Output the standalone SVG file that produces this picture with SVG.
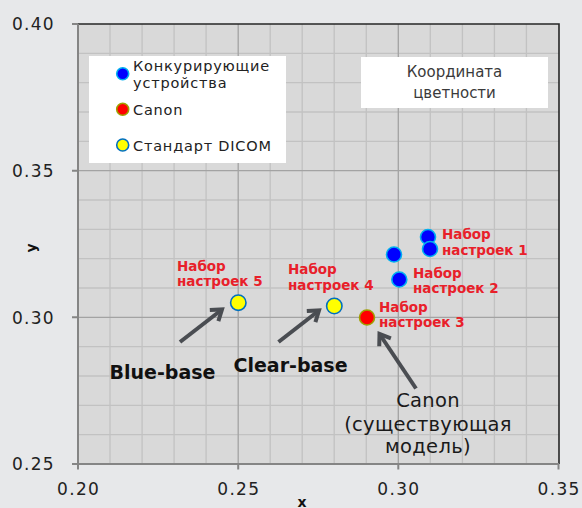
<svg xmlns="http://www.w3.org/2000/svg" width="582" height="508" viewBox="0 0 582 508">
<defs>
<style>
.grid{stroke:#c2c2c2;stroke-width:1.3}
.major{stroke:#a3a3a3;stroke-width:1.3}
.axis{stroke:#858585;stroke-width:2;fill:none}
.border{stroke:#262626;stroke-width:1.6;fill:none}
.tick{font-family:"DejaVu Sans",sans-serif;font-size:17px;fill:#222;letter-spacing:1.3px}
.ytick{text-anchor:end}
.xtick{text-anchor:middle}
.axlab{font-family:"DejaVu Sans",sans-serif;font-size:14px;font-weight:bold;fill:#111;text-anchor:middle}
.leg{font-family:"DejaVu Sans",sans-serif;font-size:14.5px;fill:#222;letter-spacing:0.8px}
.coord{font-family:"DejaVu Sans",sans-serif;font-size:15px;fill:#3a3a3a;text-anchor:middle}
.lbl{font-family:"DejaVu Sans",sans-serif;font-size:13.5px;font-weight:bold;fill:#e8202a}
.base{font-family:"DejaVu Sans",sans-serif;font-size:19px;font-weight:bold;fill:#111}
.note{font-family:"DejaVu Sans",sans-serif;font-size:19.5px;fill:#1a1a1a;text-anchor:middle;letter-spacing:0.3px}
.comp{fill:#0000ff;stroke:#00b0f0;stroke-width:1.6}
.canon{fill:#ff0000;stroke:#a0a000;stroke-width:1.6}
.dicom{fill:#ffff00;stroke:#0070c0;stroke-width:1.6}
.arrow{stroke:#4a4d52;stroke-width:4;fill:none;marker-end:url(#head)}
</style>
<marker id="head" markerUnits="userSpaceOnUse" viewBox="-14 -10 18 20" refX="0" refY="0" markerWidth="18" markerHeight="20" orient="auto">
<path d="M-10,-7 L0,0 L-10,7" fill="none" stroke="#4a4d52" stroke-width="4" stroke-linejoin="miter"/>
</marker>
</defs>
<rect x="0" y="0" width="582" height="508" fill="#e7e8ea"/>
<g id="plot">
<rect x="78" y="24" width="481" height="440" fill="#d9d9d9"/>
<g class="grid">
<line x1="110" y1="24" x2="110" y2="464"/>
<line x1="142.1" y1="24" x2="142.1" y2="464"/>
<line x1="174.1" y1="24" x2="174.1" y2="464"/>
<line x1="206.1" y1="24" x2="206.1" y2="464"/>
<line x1="270.2" y1="24" x2="270.2" y2="464"/>
<line x1="302.2" y1="24" x2="302.2" y2="464"/>
<line x1="334.2" y1="24" x2="334.2" y2="464"/>
<line x1="366.3" y1="24" x2="366.3" y2="464"/>
<line x1="430.3" y1="24" x2="430.3" y2="464"/>
<line x1="462.4" y1="24" x2="462.4" y2="464"/>
<line x1="494.4" y1="24" x2="494.4" y2="464"/>
<line x1="526.4" y1="24" x2="526.4" y2="464"/>
<line x1="78" y1="53.3" x2="559" y2="53.3"/>
<line x1="78" y1="82.7" x2="559" y2="82.7"/>
<line x1="78" y1="112" x2="559" y2="112"/>
<line x1="78" y1="141.3" x2="559" y2="141.3"/>
<line x1="78" y1="200" x2="559" y2="200"/>
<line x1="78" y1="229.3" x2="559" y2="229.3"/>
<line x1="78" y1="258.7" x2="559" y2="258.7"/>
<line x1="78" y1="288" x2="559" y2="288"/>
<line x1="78" y1="346.7" x2="559" y2="346.7"/>
<line x1="78" y1="376" x2="559" y2="376"/>
<line x1="78" y1="405.3" x2="559" y2="405.3"/>
<line x1="78" y1="434.7" x2="559" y2="434.7"/>
</g>
<g class="major">
<line x1="238.2" y1="24" x2="238.2" y2="464"/>
<line x1="398.3" y1="24" x2="398.3" y2="464"/>
<line x1="78" y1="170.7" x2="559" y2="170.7"/>
<line x1="78" y1="317.3" x2="559" y2="317.3"/>
</g>
<path class="border" d="M78,24 H559 V464"/>
<path class="axis" d="M72,24 H78 M72,170.7 H78 M72,317.3 H78 M78,24 V464 M72,464 H559 M78,464 V469.5 M238.2,464 V469.5 M398.3,464 V469.5 M558.5,464 V469.5"/>
<text class="tick ytick" x="55" y="30">0.40</text>
<text class="tick ytick" x="55" y="176.8">0.35</text>
<text class="tick ytick" x="55" y="323.6">0.30</text>
<text class="tick ytick" x="55" y="470.4">0.25</text>
<text class="tick xtick" x="78.6" y="495">0.20</text>
<text class="tick xtick" x="238.8" y="495">0.25</text>
<text class="tick xtick" x="398.9" y="495">0.30</text>
<text class="tick xtick" x="559.1" y="495">0.35</text>
<text class="axlab" x="302" y="506.5">x</text>
<text class="axlab" transform="translate(36,248) rotate(-90)" x="0" y="0">y</text>
</g>
<g id="legend">
<rect x="89" y="56" width="197" height="107" fill="#ffffff"/>
<circle class="comp" cx="122.7" cy="73.7" r="6"/>
<circle class="canon" cx="122.7" cy="109.3" r="6"/>
<circle class="dicom" cx="122.7" cy="145" r="6"/>
<text class="leg" x="133" y="70.5">Конкурирующие</text>
<text class="leg" x="133" y="87.5">устройства</text>
<text class="leg" x="133" y="115">Canon</text>
<text class="leg" x="133" y="150.5">Стандарт DICOM</text>
</g>
<g id="coord-box">
<rect x="361" y="57" width="187" height="51" fill="#ffffff"/>
<text class="coord" x="454.5" y="77">Координата</text>
<text class="coord" x="454.5" y="98">цветности</text>
</g>
<g id="points">
<circle class="comp" cx="428" cy="237" r="7.5"/>
<circle class="comp" cx="430" cy="249" r="7.5"/>
<circle class="comp" cx="394" cy="254.5" r="7.5"/>
<circle class="comp" cx="399.3" cy="279.5" r="7.5"/>
<circle class="canon" cx="367" cy="317.5" r="7.5"/>
<circle class="dicom" cx="238.3" cy="302.7" r="7.7"/>
<circle class="dicom" cx="334.3" cy="306" r="7.7"/>
</g>
<g id="labels">
<text class="lbl" x="442" y="239">Набор</text>
<text class="lbl" x="442" y="254.5">настроек 1</text>
<text class="lbl" x="413" y="277.5">Набор</text>
<text class="lbl" x="413" y="293">настроек 2</text>
<text class="lbl" x="379" y="311.5">Набор</text>
<text class="lbl" x="379" y="327">настроек 3</text>
<text class="lbl" x="288" y="274">Набор</text>
<text class="lbl" x="288" y="289.5">настроек 4</text>
<text class="lbl" x="177" y="270.5">Набор</text>
<text class="lbl" x="177" y="286">настроек 5</text>
</g>
<g id="connectors">
<path class="arrow" d="M180,342 L222,309.5"/>
<path class="arrow" d="M278.5,342 L319,310.5"/>
<path class="arrow" d="M416,388.5 L379.5,334"/>
</g>
<g id="annotations">
<text class="base" x="109.5" y="379">Blue-base</text>
<text class="base" x="233.5" y="372">Clear-base</text>
<text class="note" x="428" y="407">Canon</text>
<text class="note" x="428" y="430.5">(существующая</text>
<text class="note" x="428" y="452.5">модель)</text>
</g>
</svg>
